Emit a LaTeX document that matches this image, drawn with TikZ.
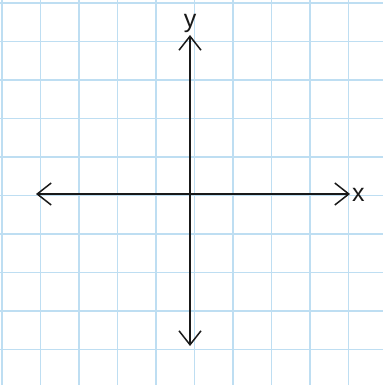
\documentclass[tikz,border=0pt]{standalone}
\usepackage{fontspec}
\setmainfont{Liberation Sans}
\usetikzlibrary{arrows.meta}
\definecolor{gridblue}{RGB}{190,222,242}
\definecolor{axisblack}{RGB}{25,25,25}
\tikzset{
  gridline/.style={draw=gridblue, line width=1.1pt},
  axis/.style={draw=axisblack, line width=1.5pt, {Straight Barb[length=14pt,width=22pt,line width=1.5pt]}-{Straight Barb[length=14pt,width=22pt,line width=1.5pt]}},
  axlabel/.style={font=\fontsize{25}{25}\selectfont, text=axisblack, inner sep=0pt}
}
\begin{document}
\begin{tikzpicture}[x=1pt,y=-1pt]
\fill[white] (0,0) rectangle (383,385);
\useasboundingbox (0,0) rectangle (383,385);
\foreach \i in {0,...,9} {
  \draw[gridline] ({2+38.5*\i},0) -- ({2+38.5*\i},385);
  \draw[gridline] (0,{3+38.5*\i}) -- (383,{3+38.5*\i});
}
\coordinate (xl) at (36,194);
\coordinate (xr) at (350,194);
\coordinate (yt) at (190,35);
\coordinate (yb) at (190,346);
\draw[axis] (xl) -- (xr);
\draw[axis] (yb) -- (yt);
\node[axlabel, anchor=west] (xlab) at (352,195) {x};
\node[axlabel, anchor=base] (ylab) at (190,28) {y};
\end{tikzpicture}
\end{document}
